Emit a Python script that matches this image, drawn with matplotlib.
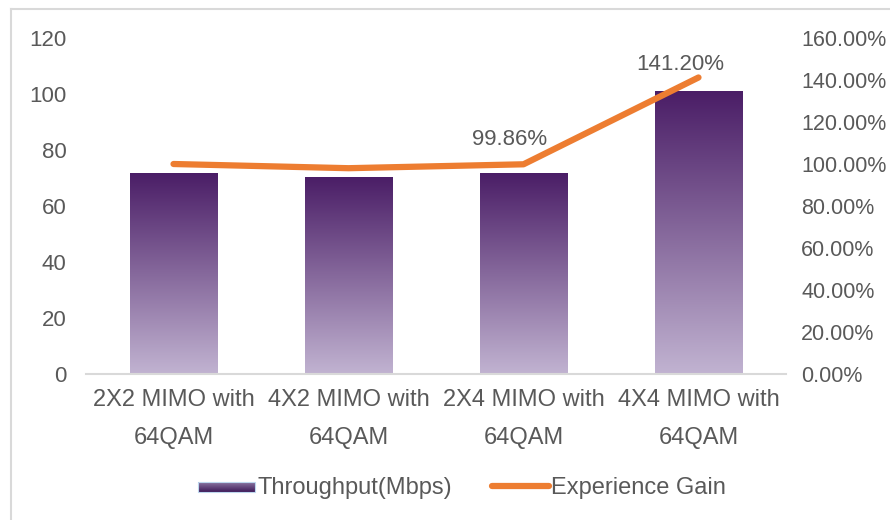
import numpy as np
import matplotlib
matplotlib.use("Agg")
import matplotlib.pyplot as plt
from matplotlib.colors import LinearSegmentedColormap
from matplotlib.patches import Rectangle
from matplotlib.lines import Line2D
from matplotlib.ticker import FuncFormatter
from matplotlib.legend_handler import HandlerBase
from matplotlib.image import BboxImage
from matplotlib.transforms import Bbox, TransformedBbox

categories = ["2X2 MIMO with\n64QAM", "4X2 MIMO with\n64QAM", "2X4 MIMO with\n64QAM", "4X4 MIMO with\n64QAM"]
throughput = [71.8, 70.4, 71.8, 101.2]
gain = [100.0, 98.0, 99.86, 141.2]
gain_labels = ["", "", "99.86%", "141.20%"]
left_ticks = [0, 20, 40, 60, 80, 100, 120]
right_ticks = [0, 20, 40, 60, 80, 100, 120, 140, 160]

plt.rcParams["font.family"] = ["Liberation Sans", "DejaVu Sans"]

txt = "#595959"
fig = plt.figure(figsize=(8.9, 5.2), dpi=100)
ax = fig.add_axes([86/890, 1-374/520, 700/890, 336/520])
ax2 = ax.twinx()

x = np.arange(len(categories))
cmap = LinearSegmentedColormap.from_list("pg", ["#c1b3d1", "#4a1d66"])
grad = np.linspace(0, 1, 256).reshape(-1, 1)
bw = 0.5
for xi, v in zip(x, throughput):
    rect = Rectangle((xi - bw/2, 0), bw, v, facecolor="none", edgecolor="none")
    ax.add_patch(rect)
    im = ax.imshow(grad, cmap=cmap, aspect="auto", origin="lower",
                   extent=(xi - bw/2, xi + bw/2, 0, v), zorder=2)
    im.set_clip_path(rect)
ax.set_xlim(-0.5, len(categories) - 0.5)
ax.set_ylim(0, 120)

ax2.plot(x, gain, color="#ed7d31", lw=4.5, solid_capstyle="round", solid_joinstyle="round", zorder=3)
ax2.set_ylim(0, 160)
label_offsets = [(0, 0), (0, 0), (-10, 10), (-13, 2)]
for xi, g, lab, off in zip(x, gain, gain_labels, label_offsets):
    if lab:
        ax2.annotate(lab, (xi, g), xytext=off, textcoords="offset points",
                     ha="center", va="bottom", fontsize=16, color=txt)

ax.set_yticks(left_ticks)
ax2.set_yticks(right_ticks)
ax2.yaxis.set_major_formatter(FuncFormatter(lambda v, p: f"{v:.2f}%"))
ax.set_xticks(x)
ax.set_xticklabels(categories, linespacing=1.95, fontsize=17)

for a in (ax, ax2):
    for s in a.spines.values():
        s.set_visible(False)
    a.tick_params(length=0, labelsize=16, labelcolor=txt)
ax.tick_params(axis="x", labelsize=17)
ax.spines["bottom"].set_visible(True)
ax.spines["bottom"].set_color("#d9d9d9")
ax.spines["bottom"].set_linewidth(1.5)
ax.tick_params(axis="y", pad=14)
ax.tick_params(axis="x", pad=11)
ax2.tick_params(axis="y", pad=11, labelsize=15.5)
ax.set_zorder(1)
ax2.set_zorder(2)
ax2.patch.set_visible(False)


class HandlerGrad(HandlerBase):
    def create_artists(self, legend, orig, xd, yd, w, h, fs, trans):
        r = Rectangle((xd, yd + h*0.1), w, h*0.6, transform=trans, facecolor="none", edgecolor="#bdd7ee", lw=0.8)
        bb = Bbox.from_bounds(xd, yd + h*0.1, w, h*0.6)
        tbb = TransformedBbox(bb, trans)
        img = BboxImage(tbb, cmap=LinearSegmentedColormap.from_list("lg", ["#8a75a3", "#3e1a58"]), interpolation="bilinear")
        img.set_data(grad)
        return [img, r]


h1 = Rectangle((0, 0), 1, 1)
h2 = Line2D([], [], color="#ed7d31", lw=4.5, solid_capstyle="round")
fig.legend([h1, h2], ["Throughput(Mbps)", "Experience Gain"], handler_map={h1: HandlerGrad()},
           loc="center", bbox_to_anchor=(462/890, 1-488/520), ncol=2, frameon=False,
           fontsize=17, labelcolor=txt, handlelength=2.4, handletextpad=0.1, columnspacing=1.7)

fig.add_artist(Line2D([11/890, 11/890], [0, 1-9/520], color="#d9d9d9", lw=1.5, transform=fig.transFigure))
fig.add_artist(Line2D([11/890, 1], [1-9/520, 1-9/520], color="#d9d9d9", lw=1.5, transform=fig.transFigure))

fig.savefig("out.png", dpi=100)
